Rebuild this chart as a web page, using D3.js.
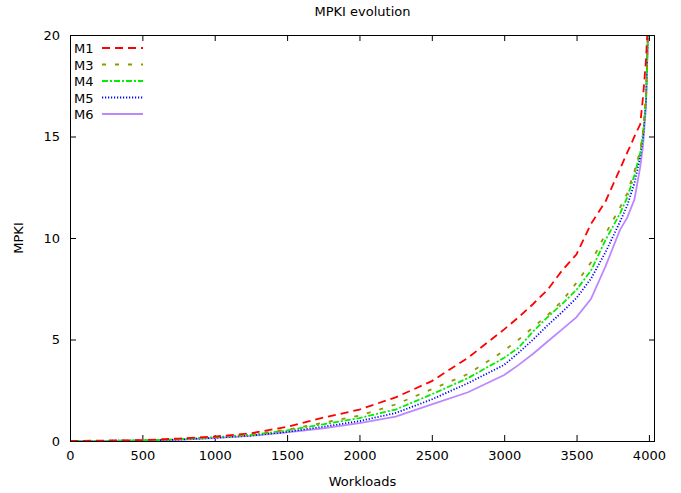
<!DOCTYPE html>
<html>
<head>
<meta charset="utf-8">
<script src="https://cdn.jsdelivr.net/npm/d3@7"></script>
<style>
body { margin: 0; background: #fff; }
text { font-family: "DejaVu Sans", sans-serif; font-size: 13px; fill: #000; }
</style>
</head>
<body>
<script>
var width = 681, height = 493;

// workload index (sorted) and MPKI per config
var workloads = [0, 250, 500, 750, 1000, 1250, 1500, 1750, 2000, 2250, 2500, 2750, 3000, 3100, 3200, 3300, 3400, 3500, 3600, 3700, 3800, 3850, 3900, 3940, 3960, 3980, 3995, 4010];
var m1 = [0, 0.02, 0.04, 0.12, 0.22, 0.38, 0.7, 1.15, 1.55, 2.15, 2.95, 4.1, 5.5, 6.1, 6.75, 7.45, 8.4, 9.2, 10.7, 11.8, 13.4, 14.2, 15.0, 15.6, 17.0, 18.8, 21, 30];
var m3 = [0, 0.01, 0.03, 0.1, 0.2, 0.33, 0.55, 0.9, 1.25, 1.8, 2.55, 3.3, 4.45, 5.0, 5.6, 6.2, 6.9, 7.8, 8.8, 10.2, 11.5, 12.2, 13.3, 14.3, 15.3, 17.0, 20.5, 30];
var m4 = [0, 0.01, 0.03, 0.09, 0.19, 0.3, 0.52, 0.82, 1.13, 1.55, 2.3, 3.1, 4.1, 4.6, 5.4, 6.1, 6.75, 7.45, 8.4, 9.9, 11.2, 12.0, 13.1, 14.2, 15.2, 16.9, 20.5, 30];
var m5 = [0, 0.01, 0.02, 0.07, 0.16, 0.27, 0.45, 0.7, 0.98, 1.38, 2.05, 2.85, 3.75, 4.35, 5.0, 5.7, 6.35, 7.05, 8.0, 9.3, 10.8, 11.6, 12.7, 14.0, 15.0, 16.8, 20.5, 30];
var m6 = [0, 0.01, 0.02, 0.06, 0.14, 0.25, 0.42, 0.62, 0.88, 1.2, 1.8, 2.4, 3.25, 3.75, 4.3, 4.9, 5.5, 6.1, 7.0, 8.6, 10.4, 11.0, 11.9, 13.5, 14.6, 16.5, 20.5, 30];

var xTicks = [0, 500, 1000, 1500, 2000, 2500, 3000, 3500, 4000];
var yTicks = [0, 5, 10, 15, 20];

var series = [
  {name: 'M1', values: m1, color: '#ff0000', dash: '8,5'},
  {name: 'M3', values: m3, color: '#949400', dash: '4,9'},
  {name: 'M4', values: m4, color: '#00ee00', dash: '6,2,2,2'},
  {name: 'M5', values: m5, color: '#0000ff', dash: '1.2,1.8'},
  {name: 'M6', values: m6, color: '#bb88ff', dash: null}
];

// plot box (window.top is reserved, so use pl/pr/pt/pb)
var pl = 70, pr = 655, pt = 35, pb = 441;

var svg = d3.select('body').append('svg').attr('width', width).attr('height', height);

var x = d3.scaleLinear().domain([0, 4042]).range([pl, pr]);
var y = d3.scaleLinear().domain([0, 20]).range([pb, pt]);

svg.append('clipPath').attr('id', 'clip')
  .append('rect').attr('x', pl).attr('y', pt).attr('width', pr - pl).attr('height', pb - pt);

// axes, ticks inward, mirrored on top/right
var tick = 6;
var fmt = d3.format('d');
svg.append('g').attr('transform', 'translate(0,' + pb + ')')
  .call(d3.axisBottom(x).tickValues(xTicks).tickFormat(fmt).tickSizeInner(-tick).tickSizeOuter(0).tickPadding(10))
  .call(g => g.select('.domain').remove());
svg.append('g').attr('transform', 'translate(0,' + pt + ')')
  .call(d3.axisTop(x).tickValues(xTicks).tickSizeInner(-tick).tickSizeOuter(0).tickFormat(''))
  .call(g => g.select('.domain').remove());
svg.append('g').attr('transform', 'translate(' + pl + ',0)')
  .call(d3.axisLeft(y).tickValues(yTicks).tickFormat(fmt).tickSizeInner(-tick).tickSizeOuter(0).tickPadding(10))
  .call(g => g.select('.domain').remove());
svg.append('g').attr('transform', 'translate(' + pr + ',0)')
  .call(d3.axisRight(y).tickValues(yTicks).tickSizeInner(-tick).tickSizeOuter(0).tickFormat(''))
  .call(g => g.select('.domain').remove());

svg.selectAll('.tick text').style('font-family', '"DejaVu Sans", sans-serif').style('font-size', '13px').attr('fill', '#000');
svg.selectAll('.tick line').attr('stroke', '#000');

var line = d3.line()
  .x(function(d, i) { return x(workloads[i]); })
  .y(function(d) { return y(d); });

var plot = svg.append('g').attr('clip-path', 'url(#clip)');
// draw M6 first so dashed lines sit on top
series.slice().reverse().forEach(function(s) {
  plot.append('path')
    .attr('d', line(s.values))
    .attr('fill', 'none')
    .attr('stroke', s.color)
    .attr('stroke-width', 1.8)
    .attr('stroke-dasharray', s.dash);
});

// frame
svg.append('rect').attr('x', pl + 0.5).attr('y', pt + 0.5)
  .attr('width', pr - pl - 1).attr('height', pb - pt)
  .attr('fill', 'none').attr('stroke', '#000').attr('stroke-width', 1);

// legend
var key = svg.append('g');
series.forEach(function(s, i) {
  var cy = 48 + i * 16.5;
  key.append('text').attr('x', 74).attr('y', cy + 5).text(s.name);
  key.append('line').attr('x1', 102).attr('x2', 143).attr('y1', cy).attr('y2', cy)
    .attr('stroke', s.color).attr('stroke-width', 1.8).attr('stroke-dasharray', s.dash);
});

// titles
svg.append('text').attr('x', (pl + pr) / 2).attr('y', 16).attr('text-anchor', 'middle').text('MPKI evolution');
svg.append('text').attr('x', (pl + pr) / 2).attr('y', 486).attr('text-anchor', 'middle').text('Workloads');
svg.append('text').attr('transform', 'translate(23,' + ((pt + pb) / 2) + ') rotate(-90)')
  .attr('text-anchor', 'middle').text('MPKI');
</script>
</body>
</html>
